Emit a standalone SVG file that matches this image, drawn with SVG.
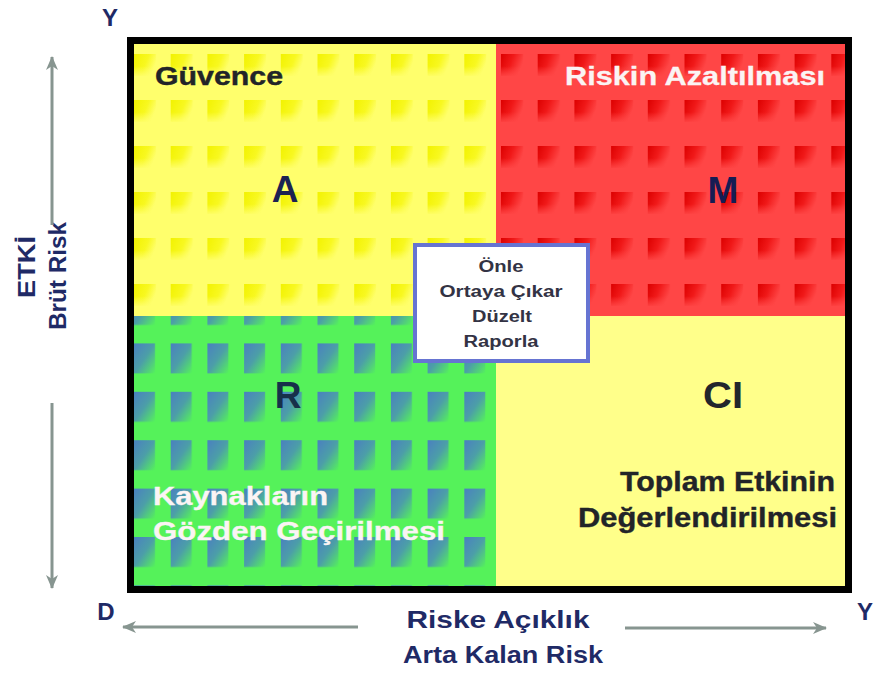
<svg xmlns="http://www.w3.org/2000/svg" width="877" height="673" viewBox="0 0 877 673">
<style>
  text { font-family: "Liberation Sans", Arial, sans-serif; font-weight: bold; }
  .big { font-size: 37px; fill: #1c2252; text-anchor: middle; }
  .dark { fill: #222428; stroke: #222428; stroke-width: 0.4; }
  .white { fill: #fbf4f4; stroke: #fbf4f4; stroke-width: 0.3; }
  .box { font-size: 16px; fill: #333344; text-anchor: middle; }
  .axis { font-size: 24px; fill: #1f2a66; }
  .arrow { stroke: #879590; stroke-width: 3; fill: none; }
</style>
<defs>
  <linearGradient id="gy" x1="0" y1="0" x2="1" y2="0.4">
    <stop offset="0" stop-color="#f2f200"/>
    <stop offset="0.6" stop-color="#f8f820"/>
    <stop offset="1" stop-color="#ffff6c"/>
  </linearGradient>
  <linearGradient id="gr" x1="0" y1="0" x2="1" y2="0.4">
    <stop offset="0" stop-color="#dc0000"/>
    <stop offset="0.5" stop-color="#f01818"/>
    <stop offset="1" stop-color="#ff4646"/>
  </linearGradient>
  <linearGradient id="gg" x1="0" y1="0" x2="1" y2="1">
    <stop offset="0" stop-color="#4a80c0"/>
    <stop offset="0.5" stop-color="#4c9ea8"/>
    <stop offset="1" stop-color="#55f25a"/>
  </linearGradient>
  <linearGradient id="fadeY" x1="0" y1="0" x2="0" y2="1">
    <stop offset="0.55" stop-color="#ffff6c" stop-opacity="0"/>
    <stop offset="1" stop-color="#ffff6c" stop-opacity="0.9"/>
  </linearGradient>
  <linearGradient id="fadeR" x1="0" y1="0" x2="0" y2="1">
    <stop offset="0.55" stop-color="#ff4646" stop-opacity="0"/>
    <stop offset="1" stop-color="#ff4646" stop-opacity="0.9"/>
  </linearGradient>
  <pattern id="py" patternUnits="userSpaceOnUse" x="134" y="8" width="36.7" height="46">
    <rect width="36.7" height="46" fill="#ffff6c"/>
    <rect x="0" y="0" width="22" height="22" fill="url(#gy)"/>
    <rect x="0" y="0" width="22" height="22" fill="url(#fadeY)"/>
  </pattern>
  <pattern id="pr" patternUnits="userSpaceOnUse" x="501" y="8" width="36.7" height="46">
    <rect width="36.7" height="46" fill="#ff4646"/>
    <rect x="0" y="0" width="22" height="22" fill="url(#gr)"/>
    <rect x="0" y="0" width="22" height="22" fill="url(#fadeR)"/>
  </pattern>
  <pattern id="pg" patternUnits="userSpaceOnUse" x="134" y="295" width="36.7" height="48.4">
    <rect width="36.7" height="48.4" fill="#55f25a"/>
    <rect x="0" y="0" width="21" height="30" fill="url(#gg)"/>
  </pattern>
  <marker id="ah" viewBox="0 0 14 12" refX="13" refY="6" markerWidth="14" markerHeight="12" markerUnits="userSpaceOnUse" orient="auto">
    <path d="M0,0 L14,6 L0,12 L4,6 Z" fill="#879590"/>
  </marker>
</defs>

<rect width="877" height="673" fill="#ffffff"/>

<g id="quadrant-A">
  <rect x="130" y="40" width="366" height="276" fill="url(#py)"/>
  <text x="155" y="85" font-size="25" class="dark" textLength="128" lengthAdjust="spacingAndGlyphs">Güvence</text>
  <text x="285" y="202" class="big">A</text>
</g>

<g id="quadrant-M">
  <rect x="496" y="40" width="354" height="276" fill="url(#pr)"/>
  <text x="565" y="85" font-size="25" class="white" textLength="260" lengthAdjust="spacingAndGlyphs">Riskin Azaltılması</text>
  <text x="723" y="203" class="big" font-size="39" style="fill:#161c54">M</text>
</g>

<g id="quadrant-R">
  <rect x="130" y="316" width="366" height="274" fill="url(#pg)"/>
  <text x="288" y="408" class="big" style="fill:#17304a">R</text>
  <text x="153" y="505" font-size="25" class="white" textLength="175" lengthAdjust="spacingAndGlyphs">Kaynakların</text>
  <text x="153" y="540" font-size="25" class="white" textLength="292" lengthAdjust="spacingAndGlyphs">Gözden Geçirilmesi</text>
</g>

<g id="quadrant-CI">
  <rect x="496" y="316" width="354" height="274" fill="#ffff8a"/>
  <text x="723" y="408" class="big" style="fill:#22262c" textLength="40" lengthAdjust="spacingAndGlyphs">CI</text>
  <text x="620" y="491" font-size="28" class="dark" textLength="215" lengthAdjust="spacingAndGlyphs">Toplam Etkinin</text>
  <text x="578" y="527" font-size="28" class="dark" textLength="259" lengthAdjust="spacingAndGlyphs">Değerlendirilmesi</text>
</g>

<g id="frame">
  <rect x="130.5" y="40.5" width="718" height="549" fill="none" stroke="#000000" stroke-width="7"/>
</g>

<g id="center-box">
  <rect x="415" y="245" width="173" height="116" fill="#ffffff" stroke="#6674d2" stroke-width="4"/>
  <text x="501" y="272" class="box" textLength="45" lengthAdjust="spacingAndGlyphs">Önle</text>
  <text x="501" y="297" class="box" textLength="123" lengthAdjust="spacingAndGlyphs">Ortaya Çıkar</text>
  <text x="502" y="322" class="box" textLength="60" lengthAdjust="spacingAndGlyphs">Düzelt</text>
  <text x="501" y="347" class="box" textLength="75" lengthAdjust="spacingAndGlyphs">Raporla</text>
</g>

<g id="axis-labels">
  <text x="110" y="26" class="axis" font-size="22" text-anchor="middle">Y</text>
  <text x="106" y="620" class="axis" text-anchor="middle">D</text>
  <text x="865" y="620" class="axis" text-anchor="middle">Y</text>
  <text x="498" y="628" class="axis" text-anchor="middle" textLength="183" lengthAdjust="spacingAndGlyphs">Riske Açıklık</text>
  <text x="503" y="663" class="axis" text-anchor="middle" textLength="200" lengthAdjust="spacingAndGlyphs">Arta Kalan Risk</text>
  <text transform="translate(35,267) rotate(-90)" class="axis" text-anchor="middle" textLength="62" lengthAdjust="spacingAndGlyphs">ETKİ</text>
  <text transform="translate(66,276) rotate(-90)" class="axis" text-anchor="middle" textLength="108" lengthAdjust="spacingAndGlyphs">Brüt Risk</text>
</g>

<g id="connectors">
  <line class="arrow" x1="52" y1="225" x2="52" y2="57" marker-end="url(#ah)"/>
  <line class="arrow" x1="52" y1="403" x2="52" y2="588" marker-end="url(#ah)"/>
  <line class="arrow" x1="358" y1="627" x2="123" y2="627" marker-end="url(#ah)"/>
  <line class="arrow" x1="625" y1="628" x2="826" y2="628" marker-end="url(#ah)"/>
</g>
</svg>
